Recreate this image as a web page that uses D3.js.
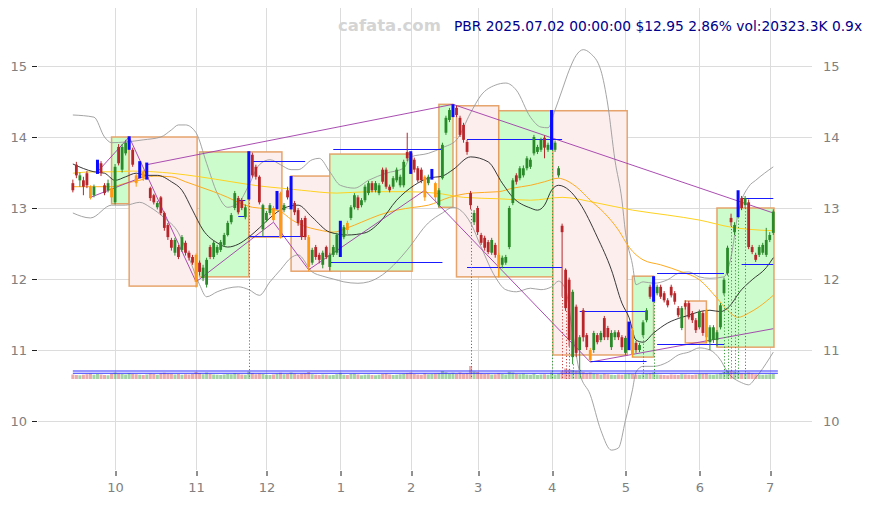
<!DOCTYPE html>
<html><head><meta charset="utf-8">
<script src="https://cdn.jsdelivr.net/npm/d3@7/dist/d3.min.js"></script>
<style>html,body{margin:0;padding:0;background:#fff;} svg{display:block;}</style>
</head><body>
<svg id="chart" width="872" height="505"></svg>
<script>
// ---------- DATA (daily candles, index 0 = 2024-09-13 ... 199 = 2025-07-02) ----------
const openP = [
13.35,13.61,13.39,13.39,13.49,13.30,13.18,13.51,13.63,13.32,
13.25,13.28,13.08,13.86,13.54,13.77,13.86,13.82,13.46,13.46,
13.51,13.44,13.28,13.18,13.01,13.15,12.93,12.76,12.55,12.37,
12.45,12.41,12.51,12.37,12.31,12.34,12.23,12.01,11.92,12.45,
12.31,12.37,12.41,12.48,12.62,12.80,13.00,13.14,13.11,12.87,
13.15,13.75,13.58,13.44,12.70,12.83,12.93,13.00,13.01,13.21,
12.97,13.25,13.01,13.07,12.97,12.83,12.86,12.59,12.23,12.45,
12.34,12.20,12.45,12.17,12.34,12.37,12.34,12.59,12.79,12.86,
13.01,13.15,13.04,13.11,13.21,13.35,13.25,13.21,13.54,13.54,
13.30,13.30,13.39,13.32,13.32,13.79,13.77,13.68,13.56,13.54,
13.44,13.35,13.42,13.35,13.04,13.42,14.06,14.24,14.31,14.41,
14.27,14.17,13.93,13.21,12.80,13.00,12.62,12.58,12.52,12.37,
12.48,12.34,12.20,12.23,12.45,13.07,13.46,13.42,13.46,13.56,
13.58,13.77,13.79,13.82,13.99,13.82,13.88,13.82,13.46,12.75,
12.13,11.99,10.90,11.61,11.00,11.56,11.21,11.00,11.00,11.21,
11.14,11.45,11.31,11.04,11.18,11.25,11.18,10.96,11.04,11.28,
11.10,11.00,11.21,11.42,11.89,11.70,11.80,11.89,11.80,11.70,
11.89,11.80,11.59,11.31,11.66,11.66,11.52,11.42,11.32,11.52,
11.56,11.11,11.14,11.14,11.32,11.80,12.08,12.86,12.66,12.90,
13.14,13.04,13.08,12.45,12.34,12.34,12.37,12.34,12.55,12.65];
const closeP = [
13.25,13.46,13.46,13.30,13.32,13.14,13.30,13.63,13.49,13.21,
13.35,13.15,13.58,13.63,13.86,13.92,14.00,13.61,13.35,13.63,
13.42,13.61,13.14,13.08,13.07,12.93,12.72,12.59,12.44,12.55,
12.31,12.59,12.37,12.30,12.23,11.96,12.10,12.16,12.27,12.31,
12.51,12.45,12.52,12.62,12.79,12.90,13.21,12.94,13.00,13.01,
13.79,13.46,13.44,13.08,13.04,12.93,13.04,12.83,13.21,12.59,
13.04,13.15,13.44,12.94,12.79,12.59,12.59,12.17,12.41,12.31,
12.27,12.37,12.31,12.34,12.45,12.62,12.80,12.73,12.69,13.01,
13.18,13.00,13.11,13.30,13.35,13.25,13.35,13.32,13.37,13.30,
13.25,13.42,13.54,13.44,13.65,13.70,13.51,13.54,13.39,13.39,
13.15,13.44,13.51,13.15,13.25,13.89,14.27,14.38,14.45,14.31,
14.03,13.96,13.79,13.04,12.93,12.66,12.51,12.44,12.38,12.55,
12.34,12.17,12.30,12.31,13.00,13.39,13.37,13.56,13.56,13.70,
13.68,14.00,13.86,13.96,13.85,13.89,13.96,13.92,13.56,12.66,
11.59,11.14,11.82,10.96,11.18,11.18,11.04,10.86,11.24,11.11,
11.24,11.18,11.18,11.24,11.25,11.18,11.04,11.17,11.38,10.93,
11.00,11.07,11.39,11.56,11.75,12.03,11.89,11.75,11.70,11.63,
11.77,11.68,11.49,11.59,11.61,11.46,11.42,11.28,11.54,11.24,
11.18,11.32,11.32,11.25,11.63,11.99,12.44,12.80,12.76,13.23,
13.00,13.14,12.45,12.38,12.27,12.45,12.48,12.55,12.62,12.95];
const highP = [
13.40,13.65,13.50,13.44,13.52,13.32,13.33,13.68,13.66,13.35,
13.40,13.30,13.62,13.90,13.90,13.96,14.01,13.85,13.48,13.66,
13.54,13.64,13.30,13.20,13.10,13.17,12.95,12.79,12.58,12.58,
12.48,12.62,12.54,12.40,12.34,12.36,12.26,12.20,12.30,12.48,
12.54,12.48,12.55,12.65,12.82,12.93,13.24,13.17,13.14,13.05,
13.80,13.78,13.61,13.46,13.06,12.96,13.07,13.03,13.24,13.23,
13.07,13.30,13.45,13.10,13.00,12.86,12.89,12.62,12.44,12.48,
12.37,12.40,12.47,12.37,12.48,12.65,12.82,12.76,12.82,13.04,
13.21,13.18,13.14,13.33,13.38,13.38,13.38,13.35,13.57,13.57,
13.33,13.45,13.57,13.47,13.68,14.06,13.80,13.71,13.59,13.57,
13.46,13.47,13.55,13.37,13.28,13.92,14.30,14.41,14.46,14.44,
14.30,14.20,13.96,13.24,12.97,13.03,12.65,12.61,12.55,12.58,
12.51,12.37,12.33,12.34,13.03,13.42,13.49,13.59,13.60,13.73,
13.71,14.03,13.89,13.99,14.02,13.92,14.38,13.95,13.59,12.78,
12.15,12.02,11.85,11.64,11.21,11.59,11.24,11.03,11.27,11.24,
11.27,11.48,11.34,11.28,11.28,11.28,11.21,11.20,11.40,11.31,
11.13,11.10,11.42,11.59,11.92,12.04,11.92,11.92,11.83,11.73,
11.92,11.83,11.62,11.62,11.70,11.69,11.55,11.45,11.57,11.55,
11.58,11.35,11.35,11.28,11.66,12.02,12.47,12.92,12.80,13.25,
13.17,13.17,13.12,12.48,12.37,12.48,12.51,12.72,12.66,12.98];
const lowP = [
13.22,13.42,13.30,13.18,13.28,13.12,13.15,13.48,13.45,13.18,
13.22,13.08,13.05,13.60,13.50,13.74,13.82,13.58,13.30,13.42,
13.38,13.40,13.10,13.05,12.98,12.90,12.68,12.55,12.40,12.33,
12.28,12.38,12.33,12.26,12.20,11.88,12.05,11.97,11.88,12.28,
12.28,12.34,12.38,12.45,12.60,12.77,12.97,12.91,12.97,12.84,
13.12,13.43,13.40,13.05,12.60,12.80,12.90,12.80,12.98,12.57,
12.94,13.12,12.98,12.90,12.75,12.55,12.55,12.11,12.20,12.27,
12.22,12.15,12.28,12.12,12.31,12.34,12.31,12.56,12.62,12.83,
12.98,12.97,13.01,13.08,13.18,13.22,13.22,13.18,13.34,13.27,
13.22,13.27,13.36,13.29,13.29,13.66,13.48,13.50,13.36,13.35,
13.10,13.32,13.40,13.10,13.01,13.40,14.03,14.21,14.28,14.28,
14.00,13.92,13.75,12.98,12.76,12.62,12.48,12.40,12.35,12.34,
12.30,12.03,12.15,12.20,12.42,13.04,13.33,13.39,13.43,13.53,
13.55,13.74,13.76,13.79,13.70,13.79,13.82,13.79,13.43,11.75,
11.55,11.05,10.80,10.90,10.72,11.12,11.00,10.84,10.96,11.08,
11.11,11.14,11.14,11.00,11.14,11.14,11.00,10.93,11.00,10.90,
10.96,10.97,11.18,11.39,11.72,11.68,11.77,11.72,11.67,11.60,
11.74,11.64,11.46,11.28,11.57,11.43,11.38,11.24,11.29,11.20,
11.10,11.00,11.10,11.05,11.29,11.77,12.05,12.75,12.62,12.87,
12.97,13.00,12.42,12.35,12.24,12.31,12.34,12.31,12.52,12.62];
// volume, millions of shares
const volumeM = [
18,16,15,17,19,22,17,20,18,16,15,21,
26,22,20,18,24,21,19,17,16,18,22,20,
17,23,25,22,21,18,20,17,19,18,20,28,
24,19,26,21,18,17,16,18,20,19,24,21,
18,17,30,24,19,22,20,17,16,18,21,25,
19,20,26,22,18,21,23,28,19,17,16,18,
17,15,16,19,25,17,16,20,21,18,15,17,
18,16,15,17,20,22,18,16,17,19,21,24,
26,20,18,17,23,19,20,22,24,32,27,22,
25,21,26,22,24,52,30,28,22,20,21,18,
19,24,20,18,29,26,20,19,22,18,17,21,
16,18,19,17,26,18,21,30,42,38,36,33,
31,27,24,26,22,20,18,21,19,17,16,18,
17,19,22,20,18,17,19,21,24,26,18,17,
16,15,18,17,16,19,18,17,16,18,20,21,
22,18,17,19,24,28,34,33,30,27,23,21,
26,22,19,18,17,18,19,20.3];
const volumeLevelsM = [23, 32];

const blueIdx   = [7,16,19,21,50,58,62,76,96,102,108,136,158,165,189];
const orangeIdx = [5,11,18,20,35,57,59,67,78,100,103,121,147,159,180];

const monthTickIdx    = [12,35,55,76,96,115,136,157,178,198];
const monthTickLabels = ['10','11','12','1','2','3','4','5','6','7'];
const priceTicks = [10,11,12,13,14,15];

// range boxes
const boxStart  = [11,16,36,50,62,73,104,109,121,136.4,159,174,183];
const boxEnd    = [16,35.3,50,59.4,73.3,96.4,108,121,136.4,157.5,165,180,199.2];
const boxTop    = [14.00,14.00,13.79,13.79,13.45,13.76,14.46,14.44,14.37,14.37,12.04,11.69,13.00];
const boxBottom = [13.06,11.90,12.03,12.59,12.11,12.11,13.01,12.03,12.03,10.93,10.90,11.10,11.04];
const boxKind   = ['up','down','up','down','down','up','up','down','up','down','up','down','up'];

// swing / trend lines  [i1, p1, i2, p2]
const trendLines = [
 [5,13.15,21,13.46],[7,13.51,16,14.00],[16,14.00,35,11.96],[21,13.61,108,14.46],
 [35,11.96,57,12.80],[57,12.80,67,12.13],[67,12.13,100,13.25],[100,13.25,147,10.83],
 [147,10.83,199,11.30],[108,14.46,199,12.93]];

// horizontal levels [i1, i2, price]
const levelLines = [
 [51,66,13.66],[50,66,12.61],[47,49,13.11],[47,49,12.89],
 [74,105,13.83],[73,105,12.24],[112,139,13.97],[112,139,12.17],
 [144,163,11.55],[147,163,10.85],[166,185,12.08],[166,185,11.08],
 [190,199,13.14],[190,199,12.21]];

// signal markers (dotted drops to the volume strip)
const signalIdx  = [50,113,136,139,140,141,142,144,162,165,185,186,187,188,189,191];
const signalKind = ['g','r','g','r','r','r','g','g','g','g','g','g','g','g','g','g'];

// indicator samples [index, price]
const bbMid = [[0,13.62],[6,13.51],[9,13.49],[12,13.39],[15,13.44],[18,13.49],[21,13.46],[24,13.46],[28,13.37],[31,13.25],[34,12.97],[37,12.69],[41,12.51],[44,12.45],[47,12.49],[50,12.59],[53,12.72],[56,12.86],[60,13.00],[64,13.04],[68,12.87],[73,12.66],[78,12.62],[83,12.65],[87,12.79],[92,13.11],[97,13.32],[101,13.42],[105,13.45],[108,13.54],[113,13.72],[118,13.65],[122,13.35],[125,13.15],[130,13.00],[132,12.97],[134,13.04],[136,13.25],[138,13.32],[141,13.25],[144,13.07],[149,12.59],[153,12.13],[156,11.66],[158,11.46],[160,11.14],[162,11.11],[165,11.24],[169,11.38],[173,11.46],[175,11.49],[178,11.54],[181,11.56],[184,11.54],[186,11.59],[190,11.85],[193,11.99],[197,12.16],[199,12.30]];
const bbUpper = [[0,14.31],[6,14.28],[9,14.00],[11,13.92],[15,13.93],[20,13.96],[25,14.00],[28,14.10],[30,14.17],[32,14.17],[35,14.06],[38,13.63],[41,13.21],[44,13.01],[47,13.07],[50,13.32],[53,13.61],[56,13.68],[59,13.61],[62,13.54],[64,13.54],[68,13.68],[70,13.70],[73,13.51],[76,13.32],[80,13.28],[84,13.39],[89,13.49],[94,13.56],[96,13.72],[101,13.77],[105,13.85],[109,13.96],[113,14.34],[116,14.59],[120,14.73],[123,14.76],[126,14.66],[130,14.28],[133,14.14],[135,14.13],[137,14.38],[139,14.66],[141,14.94],[143,15.15],[145,15.23],[147,15.18],[150,14.94],[152,14.45],[154,13.68],[156,13.11],[157,12.66],[159,12.20],[160,11.92],[162,11.96],[165,11.94],[169,11.99],[172,12.08],[175,12.10],[178,12.03],[181,12.01],[185,12.03],[187,12.31],[189,12.93],[192,13.30],[194,13.39],[199,13.58]];
const bbLower = [[0,12.93],[5,12.86],[11,13.04],[15,13.04],[19,13.08],[22,13.01],[26,12.86],[30,12.65],[33,12.30],[36,11.92],[38,11.75],[41,11.82],[44,11.87],[47,11.89],[50,11.85],[53,11.77],[56,11.96],[59,12.13],[62,12.30],[64,12.34],[68,12.10],[71,12.04],[74,12.00],[77,11.96],[81,11.94],[84,11.96],[88,12.06],[92,12.24],[95,12.41],[101,12.79],[105,12.93],[108,13.01],[113,12.79],[116,12.45],[120,12.03],[123,11.85],[126,11.82],[130,11.87],[133,11.85],[136,11.89],[138,11.97],[140,11.85],[142,11.24],[144,10.68],[147,10.37],[150,9.87],[153,9.59],[155,9.62],[157,10.01],[159,10.44],[160,10.69],[162,10.77],[165,10.77],[169,10.83],[172,10.93],[175,10.97],[178,11.03],[181,11.00],[184,10.86],[186,10.69],[190,10.54],[192,10.51],[194,10.61],[198,10.89],[199,10.97]];
const maOrange = [[0,13.30],[6,13.30],[11,13.30],[15,13.35],[19,13.39],[23,13.45],[28,13.44],[32,13.37],[36,13.30],[40,13.23],[44,13.15],[47,13.08],[51,13.01],[55,12.99],[59,12.95],[62,12.84],[65,12.76],[70,12.69],[74,12.66],[78,12.72],[82,12.80],[87,12.90],[92,12.97],[97,13.01],[101,13.04],[107,13.15],[113,13.21],[121,13.23],[125,13.28],[130,13.32],[134,13.37],[138,13.42],[139,13.41],[143,13.30],[147,13.11],[151,12.93],[155,12.69],[158,12.45],[162,12.27],[167,12.20],[173,12.10],[178,11.99],[183,11.73],[186,11.56],[189,11.46],[192,11.52],[195,11.61],[199,11.77]];
const maYellow = [[0,13.49],[6,13.51],[11,13.51],[17,13.52],[23,13.51],[28,13.49],[36,13.44],[45,13.37],[53,13.31],[59,13.28],[65,13.25],[75,13.21],[84,13.23],[94,13.23],[103,13.21],[111,13.15],[121,13.13],[130,13.11],[139,13.15],[149,13.07],[159,12.97],[169,12.90],[178,12.83],[187,12.73],[192,12.70],[199,12.68]];

const titleText = 'PBR 2025.07.02 00:00:00 $12.95 2.86% vol:20323.3K 0.9x';
const watermark = 'cafata.com';

// ---------- DRAW ----------
const svg = d3.select('#chart');
const plotL = 38, plotR = 812, plotT = 8, plotB = 470;
const x = d3.scaleLinear().domain([-9.9, 210]).range([plotL, plotR]);
const y = d3.scaleLinear().domain([9.31, 15.817]).range([plotB, plotT]);
const yVol = d3.scaleLinear().domain([0, 100]).range([379, 354]);
const candleW = 2.8;
const crisp = v => Math.round(v) + 0.5;

// grid
const g0 = svg.append('g');
g0.selectAll('line.h').data(priceTicks).join('line')
  .attr('x1', plotL).attr('x2', plotR)
  .attr('y1', d => crisp(y(d))).attr('y2', d => crisp(y(d)))
  .attr('stroke', '#dcdcdc').attr('stroke-width', 1);
g0.selectAll('line.v').data(monthTickIdx).join('line')
  .attr('x1', d => crisp(x(d))).attr('x2', d => crisp(x(d)))
  .attr('y1', plotT).attr('y2', plotB)
  .attr('stroke', '#dcdcdc').attr('stroke-width', 1);

// axes
const fontAxis = 'DejaVu Sans, sans-serif';
const axL = svg.append('g').attr('transform', 'translate(37,0)')
  .call(d3.axisLeft(y).tickValues(priceTicks).tickSize(5).tickPadding(5).tickFormat(d3.format('d')));
const axR = svg.append('g').attr('transform', `translate(${plotR},0)`)
  .call(d3.axisRight(y).tickValues(priceTicks).tickSize(0).tickPadding(11).tickFormat(d3.format('d')));
const axB = svg.append('g').attr('transform', `translate(0,${plotB + 1})`)
  .call(d3.axisBottom(x).tickValues(monthTickIdx).tickSize(5).tickPadding(7)
    .tickFormat((d, i) => monthTickLabels[i]));
[axL, axR, axB].forEach(a => {
  a.select('.domain').remove();
  a.selectAll('text').attr('fill', '#808080').style('font-family', fontAxis).style('font-size', '13px');
  a.selectAll('line').attr('stroke', '#222');
});
axB.selectAll('.tick line').attr('transform', d => `translate(${crisp(x(d)) - x(d)},0)`);

// boxes
const boxes = boxStart.map((s, k) => ({s, e: boxEnd[k], t: boxTop[k], b: boxBottom[k], kind: boxKind[k]}));
svg.append('g').selectAll('rect').data(boxes).join('rect')
  .attr('x', d => x(d.s)).attr('width', d => x(d.e) - x(d.s))
  .attr('y', d => y(d.t)).attr('height', d => y(d.b) - y(d.t))
  .attr('fill', d => d.kind === 'up' ? '#ccfccc' : '#fdeeee')
  .attr('stroke', '#e39a5c').attr('stroke-width', 1.5).attr('stroke-opacity', 0.9);

// indicator lines
const line = d3.line().x(d => x(d[0])).y(d => y(d[1])).curve(d3.curveMonotoneX);
const gi = svg.append('g').attr('fill', 'none');
gi.append('path').datum(bbUpper).attr('d', line).attr('stroke', '#9a9a9a').attr('stroke-width', 0.9);
gi.append('path').datum(bbLower).attr('d', line).attr('stroke', '#9a9a9a').attr('stroke-width', 0.9);
gi.append('path').datum(maYellow).attr('d', line).attr('stroke', '#ffd21f').attr('stroke-width', 1);
gi.append('path').datum(maOrange).attr('d', line).attr('stroke', '#ffab1f').attr('stroke-width', 1);
gi.append('path').datum(bbMid).attr('d', line).attr('stroke', '#222').attr('stroke-width', 0.9);

// trend lines
svg.append('g').selectAll('line').data(trendLines).join('line')
  .attr('x1', d => x(d[0])).attr('y1', d => y(d[1]))
  .attr('x2', d => x(d[2])).attr('y2', d => y(d[3]))
  .attr('stroke', '#a03aa8').attr('stroke-width', 1).attr('stroke-opacity', 0.9);

// level lines
svg.append('g').selectAll('line').data(levelLines).join('line')
  .attr('x1', d => x(d[0])).attr('x2', d => x(d[1]))
  .attr('y1', d => crisp(y(d[2]))).attr('y2', d => crisp(y(d[2])))
  .attr('stroke', '#1a1aff').attr('stroke-width', 1);

// signal dotted drops
svg.append('g').selectAll('line').data(signalIdx).join('line')
  .attr('x1', d => crisp(x(d))).attr('x2', d => crisp(x(d)))
  .attr('y1', d => y(lowP[d])).attr('y2', yVol(0))
  .attr('stroke', (d, k) => signalKind[k] === 'g' ? '#3a9a3a' : '#c84040')
  .attr('stroke-width', 1).attr('stroke-dasharray', '1.2,2');

// volume strip
const idx = d3.range(openP.length);
svg.append('g').selectAll('rect').data(idx).join('rect')
  .attr('x', i => x(i) - 1.5).attr('width', 3)
  .attr('y', i => yVol(volumeM[i])).attr('height', i => yVol(0) - yVol(volumeM[i]))
  .attr('fill', i => closeP[i] >= openP[i] ? '#3aa03a' : '#d04848').attr('fill-opacity', 0.45);
svg.append('g').selectAll('line').data(volumeLevelsM).join('line')
  .attr('x1', x(0)).attr('x2', x(200.3))
  .attr('y1', d => yVol(d)).attr('y2', d => yVol(d))
  .attr('stroke', '#3030ff').attr('stroke-width', 1.2);

// candles
const blueSet = new Set(blueIdx), orangeSet = new Set(orangeIdx);
const gc = svg.append('g');
idx.forEach(i => {
  const cx = x(i);
  const up = closeP[i] >= openP[i];
  let col = up ? '#2a8a2a' : '#b8262a';
  if (orangeSet.has(i)) col = '#ff9a10';
  if (blueSet.has(i)) {
    gc.append('rect').attr('x', cx - 1.5).attr('width', 3)
      .attr('y', y(highP[i])).attr('height', y(lowP[i]) - y(highP[i]))
      .attr('fill', '#0a0aff');
    return;
  }
  gc.append('line').attr('x1', cx).attr('x2', cx)
    .attr('y1', y(highP[i])).attr('y2', y(lowP[i]))
    .attr('stroke', col).attr('stroke-width', 1);
  const top = y(Math.max(openP[i], closeP[i])), bot = y(Math.min(openP[i], closeP[i]));
  gc.append('rect').attr('x', cx - candleW / 2).attr('width', candleW)
    .attr('y', top).attr('height', Math.max(1, bot - top))
    .attr('fill', col);
});

// texts
svg.append('text').attr('x', 338).attr('y', 31).text(watermark)
  .style('font-family', 'DejaVu Sans, sans-serif').style('font-weight', 'bold')
  .style('font-size', '16.5px').attr('fill', '#d4d4d4');
svg.append('text').attr('x', 454).attr('y', 31).text(titleText)
  .style('font-family', 'DejaVu Sans, sans-serif').style('font-size', '13.8px').attr('fill', '#00008b');
</script>
</body></html>
